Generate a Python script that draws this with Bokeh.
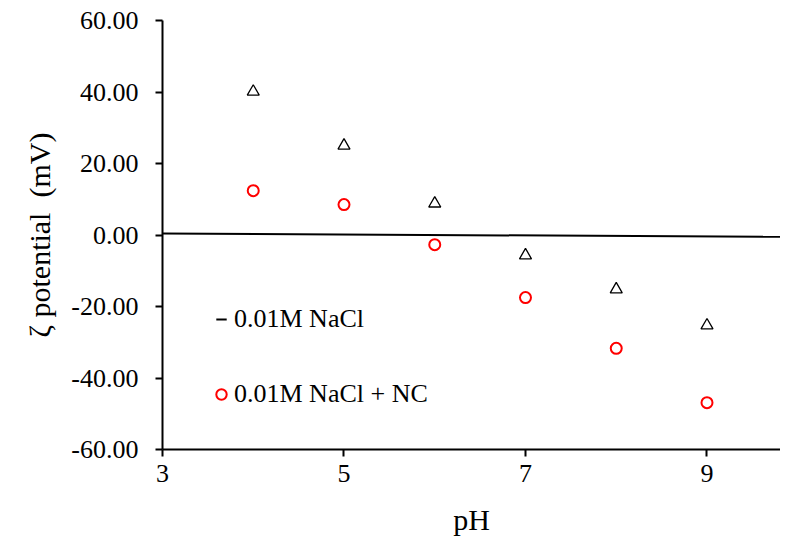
from bokeh.plotting import figure
from bokeh.models import Range1d, FixedTicker, NumeralTickFormatter, Legend, LegendItem
from bokeh.embed import file_html
from bokeh.resources import INLINE

ph = [4, 5, 6, 7, 8, 9]
nacl = [40.1, 25.0, 8.8, -5.7, -15.2, -25.3]
nacl_nc = [12.4, 8.5, -2.7, -17.5, -31.7, -46.9]
zero_line_x = [3, 9.81]
zero_line_y = [0.4, -0.5]
x_ticks = [3, 5, 7, 9]
y_ticks = [-60, -40, -20, 0, 20, 40, 60]

FONT = "Liberation Serif"

p = figure(width=780, height=542, output_backend="svg", toolbar_location=None,
           x_range=Range1d(3, 9.81), y_range=Range1d(-60, 60),
           min_border_left=162, min_border_right=0, min_border_top=20, min_border_bottom=93)
p.outline_line_color = None
p.xgrid.visible = False
p.ygrid.visible = False

p.line(zero_line_x, zero_line_y, line_color="black", line_width=2)
r_tri = p.scatter(ph, nacl, marker="triangle", size=12, fill_color=None,
                  line_color="black", line_width=1.3)
r_circ = p.scatter(ph, nacl_nc, marker="circle", size=11, fill_color=None,
                   line_color="red", line_width=2)
r_dash = p.scatter([float("nan")], [float("nan")], marker="dash", size=11,
                   line_color="black", line_width=2)

for ax in (p.xaxis[0], p.yaxis[0]):
    ax.axis_line_width = 2
    ax.major_tick_line_width = 2
    ax.minor_tick_line_color = None
    ax.major_tick_out = 7
    ax.major_tick_in = 0
    ax.major_label_text_font = FONT
    ax.major_label_text_font_size = "26px"
    ax.major_label_text_color = "black"
    ax.axis_label_text_font = FONT
    ax.axis_label_text_font_size = "30px"
    ax.axis_label_text_font_style = "normal"
    ax.axis_label_text_color = "black"

p.xaxis.ticker = FixedTicker(ticks=x_ticks)
p.yaxis.ticker = FixedTicker(ticks=y_ticks)
p.yaxis.formatter = NumeralTickFormatter(format="0.00")
p.xaxis.major_label_standoff = 8
p.yaxis.major_label_standoff = 17
p.xaxis.axis_label = "pH"
p.yaxis.axis_label = "ζ potential\u00a0 (mV)"
p.xaxis.axis_label_standoff = 18
p.yaxis.axis_label_standoff = 12

legend = Legend(items=[LegendItem(label="0.01M NaCl", renderers=[r_dash]),
                       LegendItem(label="0.01M NaCl + NC", renderers=[r_circ])],
                location=(46, 40), orientation="vertical",
                glyph_width=26, glyph_height=26, label_height=26, spacing=45,
                label_standoff=0, padding=0, margin=0,
                label_text_font=FONT, label_text_font_size="26px",
                label_text_color="black",
                border_line_color=None, background_fill_alpha=0)
p.add_layout(legend, "center")

open("out.html", "w").write(file_html(p, INLINE))
